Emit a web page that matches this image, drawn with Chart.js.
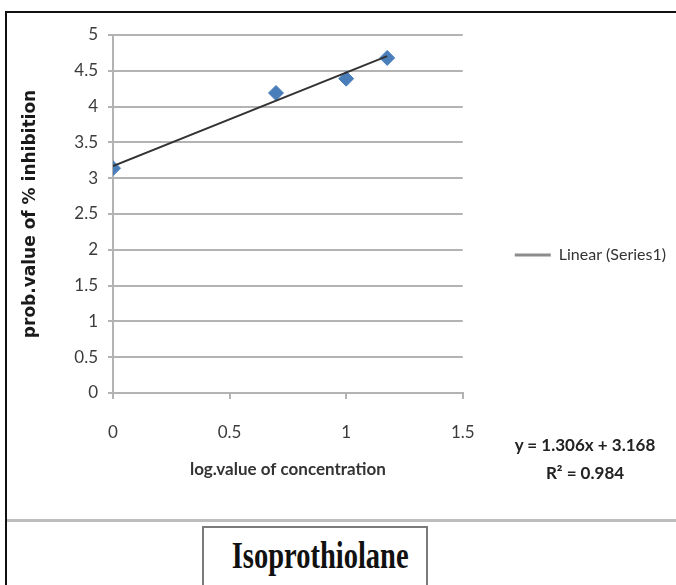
<!DOCTYPE html>
<html>
<head>
<meta charset="utf-8">
<script src="https://cdn.jsdelivr.net/npm/chart.js@4.4.0/dist/chart.umd.min.js"></script>
<style>
  html, body { margin: 0; padding: 0; background: #fff; overflow: hidden; }
  body { width: 676px; height: 585px; position: relative; }
  #frame { position: absolute; left: 5px; top: 11px; width: 700px; height: 600px; border: 2px solid #111; }
  #rule { position: absolute; left: 7px; right: 0; top: 519px; height: 3px; background: #bdbdbd; }
  #caption { position: absolute; left: 202px; top: 526px; width: 222px; height: 80px; border: 2px solid #7a7a7a; }
  #caption span {
    position: absolute; left: 0; top: 8px; width: 100%; text-align: center;
    font: bold 38px "Liberation Serif", serif; line-height: 38px; color: #111;
    transform: scaleX(0.75);
  }
  #chart { position: absolute; left: 0; top: 0; }
  .eq { position: absolute; left: 485px; width: 200px; text-align: center;
        font: bold 17px Lato, sans-serif; line-height: 20px; color: #222; }
</style>
</head>
<body>
<div id="frame"></div>
<canvas id="chart" width="676" height="515"></canvas>
<div class="eq" id="eq1" style="top: 435px;"></div>
<div class="eq" id="eq2" style="top: 463px;"></div>
<div id="rule"></div>
<div id="caption"><span>Isoprothiolane</span></div>
<script>
// data
const logConc = [0, 0.699, 1, 1.176];
const probValue = [3.14, 4.19, 4.39, 4.68];
// trendline ends (Excel linear fit)
const trendX = [0, 1.176];
const trendY = [3.168, 4.704];
const xTicks = [0, 0.5, 1, 1.5];
const yTicks = [0, 0.5, 1, 1.5, 2, 2.5, 3, 3.5, 4, 4.5, 5];
const eqText = "y = 1.306x + 3.168";
const r2Text = "R² = 0.984";

document.getElementById("eq1").textContent = eqText;
document.getElementById("eq2").textContent = r2Text;

const gridColor = "#b3b3b3";
const labelColor = "#3b3b3b";
const legendText = "Linear (Series1)";

const ctx = document.getElementById("chart");
// eslint-disable-next-line no-unused-vars
const myChart = new Chart(ctx, {
  type: "scatter",
  data: {
    datasets: [
      {
        label: legendText,
        type: "line",
        data: trendX.map((x, i) => ({ x: x, y: trendY[i] })),
        borderColor: "#333333",
        borderWidth: 2,
        pointRadius: 0,
        fill: false,
        order: 0,
      },
      {
        label: "Series1",
        data: logConc.map((x, i) => ({ x: x, y: probValue[i] })),
        pointStyle: "rectRot",
        pointRadius: 7.5,
        backgroundColor: "#4a7ebb",
        borderColor: "#4a7ebb",
        borderWidth: 1,
        order: 1,
      },
    ],
  },
  options: {
    responsive: false,
    animation: false,
    devicePixelRatio: 1,
    layout: { padding: { left: 6, top: 35, right: 0, bottom: 0 } },
    plugins: {
      tooltip: { enabled: false },
      legend: {
        position: "right",
        fullSize: false,
        // fixed legend width keeps the plot's right edge at x=462
        maxWidth: 214,
        title: { display: true, text: "", font: { size: 10 }, padding: { top: 70, bottom: 0 } },
        labels: {
          padding: 52,
          usePointStyle: true,
          pointStyleWidth: 36,
          font: { family: "Lato", size: 16 },
          color: "#333",
          generateLabels: () => [
            {
              text: legendText,
              fillStyle: "#8c8c8c",
              strokeStyle: "#8c8c8c",
              lineWidth: 3,
              pointStyle: "line",
              hidden: false,
              datasetIndex: 0,
              fontColor: "#333",
            },
          ],
        },
      },
    },
    scales: {
      x: {
        type: "linear",
        min: xTicks[0],
        max: xTicks[xTicks.length - 1],
        ticks: {
          stepSize: xTicks[1] - xTicks[0],
          padding: 23,
          font: { family: "Lato", size: 17 },
          color: labelColor,
          callback: (v) => String(v),
        },
        grid: { drawOnChartArea: false, drawTicks: true, tickLength: 6, color: gridColor, lineWidth: 2 },
        border: { display: true, color: gridColor, width: 2 },
        title: {
          display: true,
          text: "log.value of concentration",
          font: { family: "Lato", size: 17, weight: "bold" },
          color: "#333",
          padding: { top: 0, bottom: 35 },
        },
        afterFit: (s) => { s.height = 122; },
      },
      y: {
        min: yTicks[0],
        max: yTicks[yTicks.length - 1],
        ticks: {
          stepSize: yTicks[1] - yTicks[0],
          padding: 10,
          font: { family: "Lato", size: 17 },
          color: labelColor,
          callback: (v) => String(v),
        },
        grid: { color: gridColor, lineWidth: 2, tickLength: 5 },
        border: { display: true, color: gridColor, width: 2 },
        title: {
          display: true,
          text: "prob.value of % inhibition",
          font: { family: "DejaVu Sans", size: 17, weight: "bold" },
          color: "#1a1a1a",
          padding: { top: 14, bottom: 0 },
        },
        afterFit: (s) => { s.width = 107; },
      },
    },
  },
});
</script>
</body>
</html>
